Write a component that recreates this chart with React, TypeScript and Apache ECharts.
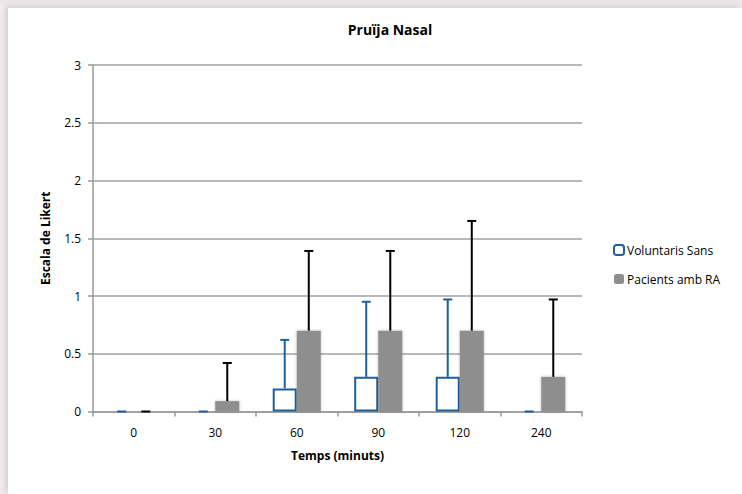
import React, { useEffect, useRef } from "react";
import * as echarts from "echarts";

const categories = ["0", "30", "60", "90", "120", "240"];
const voluntaris = [0, 0, 0.2, 0.3, 0.3, 0];
const voluntarisErr = [0, 0, 0.42, 0.65, 0.67, 0];
const pacients = [0, 0.09, 0.7, 0.7, 0.7, 0.3];
const pacientsErr = [0, 0.33, 0.69, 0.69, 0.95, 0.67];
const yTicks = { min: 0, max: 3, interval: 0.5 };

const FONT = "'Open Sans', 'Noto Sans', sans-serif";
const BLUE = "#1f5f9b";
const GRAY = "#8e8e8e";
const BAR_CAT_GAP = 0.41;

function errorSeries(name: string, values: number[], errs: number[], side: number, color: string) {
  return {
    type: "custom",
    name: name + "_err",
    z: 5,
    silent: true,
    data: values.map((v, i) => [i, v, v + errs[i]]),
    renderItem: (params: any, api: any) => {
      const i = api.value(0);
      const lo = api.coord([i, api.value(1)]);
      const hi = api.coord([i, api.value(2)]);
      const band = api.size([1, 0])[0];
      const bw = (band * (1 - BAR_CAT_GAP)) / 2;
      const x = lo[0] + (side * bw) / 2;
      const cap = 4.5;
      const style = { stroke: color, lineWidth: 2, fill: "none" };
      return {
        type: "group",
        children: [
          { type: "line", shape: { x1: x, y1: lo[1], x2: x, y2: hi[1] }, style },
          { type: "line", shape: { x1: x - cap, y1: hi[1], x2: x + cap, y2: hi[1] }, style },
        ],
      };
    },
  };
}

export default function App() {
  const ref = useRef<HTMLDivElement>(null);
  useEffect(() => {
    if (!ref.current) return;
    const chart = echarts.init(ref.current, undefined, { renderer: "svg" });
    chart.setOption({
      animation: false,
      backgroundColor: "transparent",
      textStyle: { fontFamily: FONT },
      title: {
        text: "Pruïja Nasal",
        left: 377,
        top: 9,
        textAlign: "center",
        textStyle: { fontFamily: FONT, fontSize: 14, fontWeight: "bold", color: "#000" },
      },
      legend: {
        orient: "vertical",
        left: 600,
        top: 231,
        itemWidth: 10,
        itemHeight: 10,
        itemGap: 17,
        textStyle: { fontFamily: FONT, fontSize: 12, color: "#000", padding: [0, 0, 0, -2] },
        data: [
          { name: "Voluntaris Sans", itemStyle: { color: "#fff", borderColor: BLUE, borderWidth: 2 } },
          { name: "Pacients amb RA", itemStyle: { color: GRAY, borderWidth: 0 } },
        ],
      },
      grid: { left: 85, right: 160, top: 57, bottom: 82.5, containLabel: false },
      xAxis: {
        type: "category",
        data: categories,
        name: "Temps (minuts)",
        nameLocation: "middle",
        nameGap: 38,
        nameTextStyle: { fontFamily: FONT, fontSize: 12, fontWeight: "bold", color: "#000" },
        axisLine: { lineStyle: { color: "#999", width: 1.5 } },
        axisTick: { show: true, length: 5, lineStyle: { color: "#999", width: 1.5 } },
        axisLabel: { fontFamily: FONT, fontSize: 12, color: "#000", margin: 15 },
      },
      yAxis: {
        type: "value",
        min: yTicks.min,
        max: yTicks.max,
        interval: yTicks.interval,
        name: "Escala de Likert",
        nameLocation: "middle",
        nameGap: 42,
        nameTextStyle: { fontFamily: FONT, fontSize: 12, fontWeight: "bold", color: "#000" },
        axisLine: { show: true, lineStyle: { color: "#999", width: 1.5 } },
        axisTick: { show: true, length: 5, lineStyle: { color: "#999", width: 1.5 } },
        axisLabel: { fontFamily: FONT, fontSize: 12, color: "#000", margin: 12 },
        splitLine: { lineStyle: { color: "#a0a0a0", width: 1.5 } },
      },
      series: [
        {
          type: "bar",
          name: "Voluntaris Sans",
          barGap: "0%",
          barCategoryGap: BAR_CAT_GAP * 100 + "%",
          data: voluntaris.map((v) => ({
            value: v,
            itemStyle: v === 0 ? { borderWidth: 0, color: "transparent" } : undefined,
          })),
          itemStyle: { color: "#fff", borderColor: BLUE, borderWidth: 2 },
        },
        {
          type: "bar",
          name: "Pacients amb RA",
          barGap: "0%",
          barCategoryGap: BAR_CAT_GAP * 100 + "%",
          data: pacients,
          itemStyle: {
            color: GRAY,
            shadowColor: "rgba(0,0,0,0.25)",
            shadowBlur: 3,
          },
        },
        errorSeries("Voluntaris Sans", voluntaris, voluntarisErr, -1, BLUE),
        errorSeries("Pacients amb RA", pacients, pacientsErr, 1, "#000"),
      ],
    });
    return () => chart.dispose();
  }, []);

  return (
    <div
      style={{
        position: "fixed",
        left: 0,
        top: 0,
        width: 742,
        height: 494,
        background: "linear-gradient(180deg, #ece6e8 0px, #f3eff0 8px)",
        overflow: "hidden",
      }}
    >
      <div
        style={{
          position: "absolute",
          left: 8,
          top: 8,
          width: 734,
          height: 486,
          background: "#fff",
          boxShadow: "-3px -2px 6px rgba(180,170,172,0.5)",
        }}
      >
        <div ref={ref} style={{ width: 734, height: 486 }} />
      </div>
    </div>
  );
}
